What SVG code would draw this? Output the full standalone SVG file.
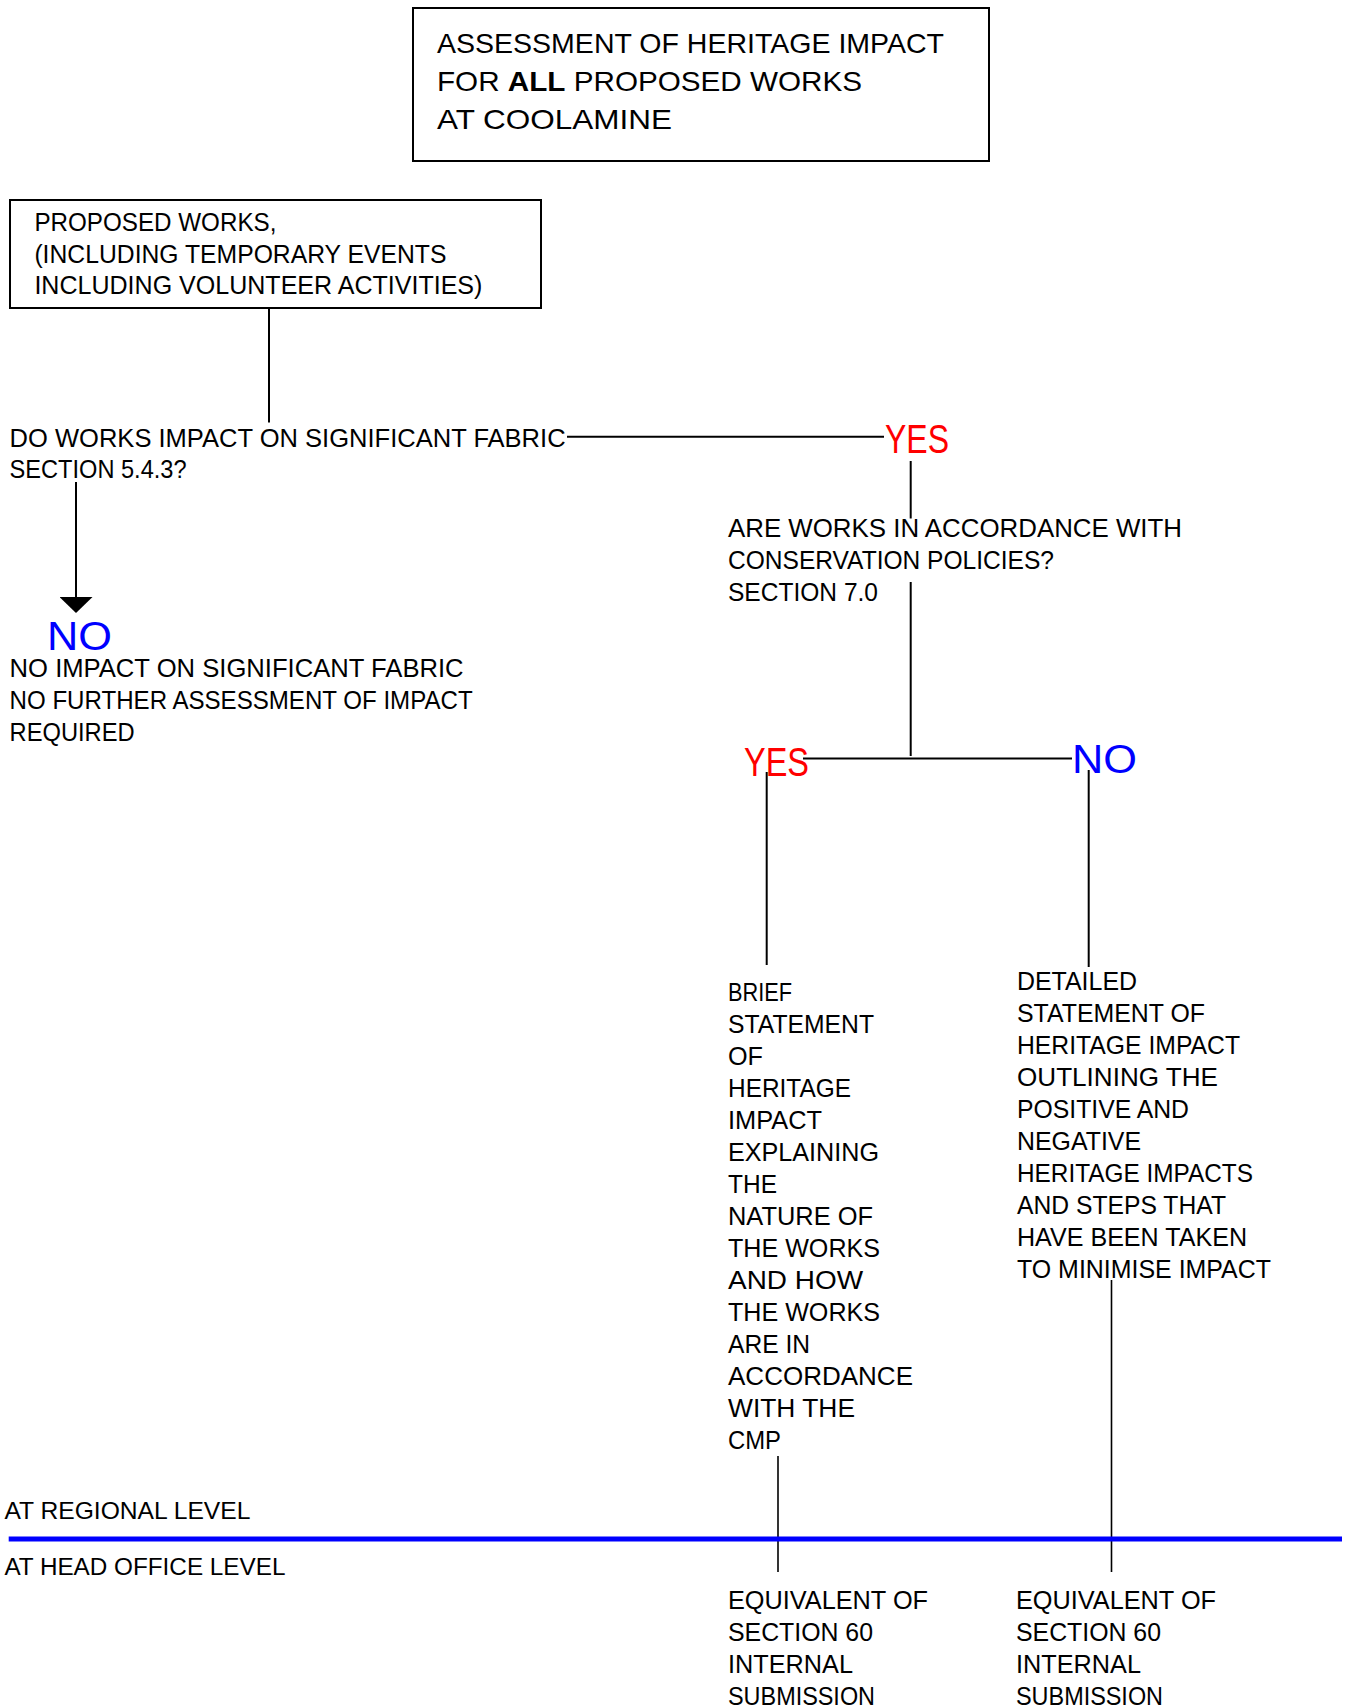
<svg xmlns="http://www.w3.org/2000/svg" width="1354" height="1708" viewBox="0 0 1354 1708">
  <style>
    text { font-family: "Liberation Sans", Arial, sans-serif; fill: #000; }
    .t { font-size: 28.3px; }
    .b { font-size: 25.3px; }
    .lv { font-size: 24.2px; }
    .yes { font-size: 40px; fill: #ff0000; }
    .no { font-size: 40px; fill: #0000ff; }
    .box { fill: #fff; stroke: #000; stroke-width: 2; }
    .ln { fill: none; stroke: #000; stroke-width: 2; }
    .thin { stroke-width: 1.6; }
    .band { stroke: #0000ff; stroke-width: 5; }
  </style>
  <defs>
    <marker id="arrow" viewBox="0 0 16 33" markerWidth="16" markerHeight="33" markerUnits="userSpaceOnUse" refX="0" refY="16.5" orient="auto">
      <path d="M0 0 L16 16.5 L0 33 Z" fill="#000"/>
    </marker>
  </defs>
  <rect width="1354" height="1708" fill="#fff"/>

  <!-- connectors -->
  <g id="connectors">
    <path class="ln" d="M269 308 V422.6"/>
    <path class="ln" d="M567 436.7 H884"/>
    <path class="ln" d="M76 482 V597" marker-end="url(#arrow)"/>
    <path class="ln" d="M910.7 461 V518.5"/>
    <path class="ln" d="M910.7 582 V756"/>
    <path class="ln" d="M803 758.5 H1072"/>
    <path class="ln" d="M766.7 772 V965"/>
    <path class="ln" d="M1088.7 770 V967"/>
    <path class="ln thin" d="M1111.5 1280 V1572"/>
    <path class="ln thin" d="M778 1456 V1572"/>
  </g>

  <!-- title box -->
  <g id="title" lengthAdjust="spacingAndGlyphs">
    <rect class="box" x="413" y="8" width="576" height="153"/>
    <text class="t" x="437" y="53" textLength="507" lengthAdjust="spacingAndGlyphs">ASSESSMENT OF HERITAGE IMPACT</text>
    <text class="t" x="437" y="91" textLength="425" lengthAdjust="spacingAndGlyphs">FOR <tspan font-weight="bold">ALL</tspan> PROPOSED WORKS</text>
    <text class="t" x="437" y="129" textLength="235" lengthAdjust="spacingAndGlyphs">AT COOLAMINE</text>
  </g>

  <!-- proposed works box -->
  <g id="proposed-works">
    <rect class="box" x="10" y="200" width="531" height="108"/>
    <text class="b" x="34.4" y="230.5" textLength="242" lengthAdjust="spacingAndGlyphs">PROPOSED WORKS,</text>
    <text class="b" x="34.4" y="262.5" textLength="412" lengthAdjust="spacingAndGlyphs">(INCLUDING TEMPORARY EVENTS</text>
    <text class="b" x="34.4" y="294" textLength="448" lengthAdjust="spacingAndGlyphs">INCLUDING VOLUNTEER ACTIVITIES)</text>
  </g>

  <!-- first question -->
  <g id="question-fabric">
    <text class="b" x="9.6" y="446.7" textLength="556" lengthAdjust="spacingAndGlyphs">DO WORKS IMPACT ON SIGNIFICANT FABRIC</text>
    <text class="b" x="9.6" y="478" textLength="177" lengthAdjust="spacingAndGlyphs">SECTION 5.4.3?</text>
  </g>

  <g id="yes-fabric">
    <text class="yes" x="885" y="453" textLength="64" lengthAdjust="spacingAndGlyphs">YES</text>
  </g>

  <g id="no-fabric">
    <text class="no" x="47" y="650" textLength="65" lengthAdjust="spacingAndGlyphs">NO</text>
    <text class="b" x="9.6" y="677" textLength="454" lengthAdjust="spacingAndGlyphs">NO IMPACT ON SIGNIFICANT FABRIC</text>
    <text class="b" x="9.6" y="709" textLength="463" lengthAdjust="spacingAndGlyphs">NO FURTHER ASSESSMENT OF IMPACT</text>
    <text class="b" x="9.6" y="741" textLength="125" lengthAdjust="spacingAndGlyphs">REQUIRED</text>
  </g>

  <!-- second question -->
  <g id="question-policies">
    <text class="b" x="728" y="537" textLength="454" lengthAdjust="spacingAndGlyphs">ARE WORKS IN ACCORDANCE WITH</text>
    <text class="b" x="728" y="569" textLength="326" lengthAdjust="spacingAndGlyphs">CONSERVATION POLICIES?</text>
    <text class="b" x="728" y="601" textLength="150" lengthAdjust="spacingAndGlyphs">SECTION 7.0</text>
  </g>

  <g id="yes-policies">
    <text class="yes" x="744" y="776" textLength="65" lengthAdjust="spacingAndGlyphs">YES</text>
  </g>

  <g id="no-policies">
    <text class="no" x="1072" y="773" textLength="65" lengthAdjust="spacingAndGlyphs">NO</text>
  </g>

  <!-- brief statement -->
  <g id="brief-statement">
    <text class="b" x="728" y="1001" textLength="64" lengthAdjust="spacingAndGlyphs">BRIEF</text>
    <text class="b" x="728" y="1033" textLength="146" lengthAdjust="spacingAndGlyphs">STATEMENT</text>
    <text class="b" x="728" y="1065" textLength="35" lengthAdjust="spacingAndGlyphs">OF</text>
    <text class="b" x="728" y="1097" textLength="123" lengthAdjust="spacingAndGlyphs">HERITAGE</text>
    <text class="b" x="728" y="1129" textLength="94" lengthAdjust="spacingAndGlyphs">IMPACT</text>
    <text class="b" x="728" y="1161" textLength="151" lengthAdjust="spacingAndGlyphs">EXPLAINING</text>
    <text class="b" x="728" y="1193" textLength="49" lengthAdjust="spacingAndGlyphs">THE</text>
    <text class="b" x="728" y="1225" textLength="145" lengthAdjust="spacingAndGlyphs">NATURE OF</text>
    <text class="b" x="728" y="1257" textLength="152" lengthAdjust="spacingAndGlyphs">THE WORKS</text>
    <text class="b" x="728" y="1289" textLength="135" lengthAdjust="spacingAndGlyphs">AND HOW</text>
    <text class="b" x="728" y="1321" textLength="152" lengthAdjust="spacingAndGlyphs">THE WORKS</text>
    <text class="b" x="728" y="1353" textLength="82" lengthAdjust="spacingAndGlyphs">ARE IN</text>
    <text class="b" x="728" y="1385" textLength="185" lengthAdjust="spacingAndGlyphs">ACCORDANCE</text>
    <text class="b" x="728" y="1417" textLength="127" lengthAdjust="spacingAndGlyphs">WITH THE</text>
    <text class="b" x="728" y="1449" textLength="53" lengthAdjust="spacingAndGlyphs">CMP</text>
  </g>

  <!-- detailed statement -->
  <g id="detailed-statement">
    <text class="b" x="1017" y="990" textLength="120" lengthAdjust="spacingAndGlyphs">DETAILED</text>
    <text class="b" x="1017" y="1022" textLength="188" lengthAdjust="spacingAndGlyphs">STATEMENT OF</text>
    <text class="b" x="1017" y="1054" textLength="223" lengthAdjust="spacingAndGlyphs">HERITAGE IMPACT</text>
    <text class="b" x="1017" y="1086" textLength="201" lengthAdjust="spacingAndGlyphs">OUTLINING THE</text>
    <text class="b" x="1017" y="1118" textLength="172" lengthAdjust="spacingAndGlyphs">POSITIVE AND</text>
    <text class="b" x="1017" y="1150" textLength="124" lengthAdjust="spacingAndGlyphs">NEGATIVE</text>
    <text class="b" x="1017" y="1182" textLength="236" lengthAdjust="spacingAndGlyphs">HERITAGE IMPACTS</text>
    <text class="b" x="1017" y="1214" textLength="209" lengthAdjust="spacingAndGlyphs">AND STEPS THAT</text>
    <text class="b" x="1017" y="1246" textLength="230" lengthAdjust="spacingAndGlyphs">HAVE BEEN TAKEN</text>
    <text class="b" x="1017" y="1278" textLength="254" lengthAdjust="spacingAndGlyphs">TO MINIMISE IMPACT</text>
  </g>

  <!-- level divider -->
  <g id="levels">
    <text class="lv" x="4.4" y="1518.5" textLength="246" lengthAdjust="spacingAndGlyphs">AT REGIONAL LEVEL</text>
    <path class="band" d="M8.7 1539 H1342"/>
    <text class="lv" x="4.4" y="1575" textLength="281" lengthAdjust="spacingAndGlyphs">AT HEAD OFFICE LEVEL</text>
  </g>

  <!-- submissions -->
  <g id="submission-brief">
    <text class="b" x="728" y="1609" textLength="200" lengthAdjust="spacingAndGlyphs">EQUIVALENT OF</text>
    <text class="b" x="728" y="1641" textLength="145" lengthAdjust="spacingAndGlyphs">SECTION 60</text>
    <text class="b" x="728" y="1673" textLength="125" lengthAdjust="spacingAndGlyphs">INTERNAL</text>
    <text class="b" x="728" y="1705" textLength="147" lengthAdjust="spacingAndGlyphs">SUBMISSION</text>
  </g>
  <g id="submission-detailed">
    <text class="b" x="1016" y="1609" textLength="200" lengthAdjust="spacingAndGlyphs">EQUIVALENT OF</text>
    <text class="b" x="1016" y="1641" textLength="145" lengthAdjust="spacingAndGlyphs">SECTION 60</text>
    <text class="b" x="1016" y="1673" textLength="125" lengthAdjust="spacingAndGlyphs">INTERNAL</text>
    <text class="b" x="1016" y="1705" textLength="147" lengthAdjust="spacingAndGlyphs">SUBMISSION</text>
  </g>
</svg>
